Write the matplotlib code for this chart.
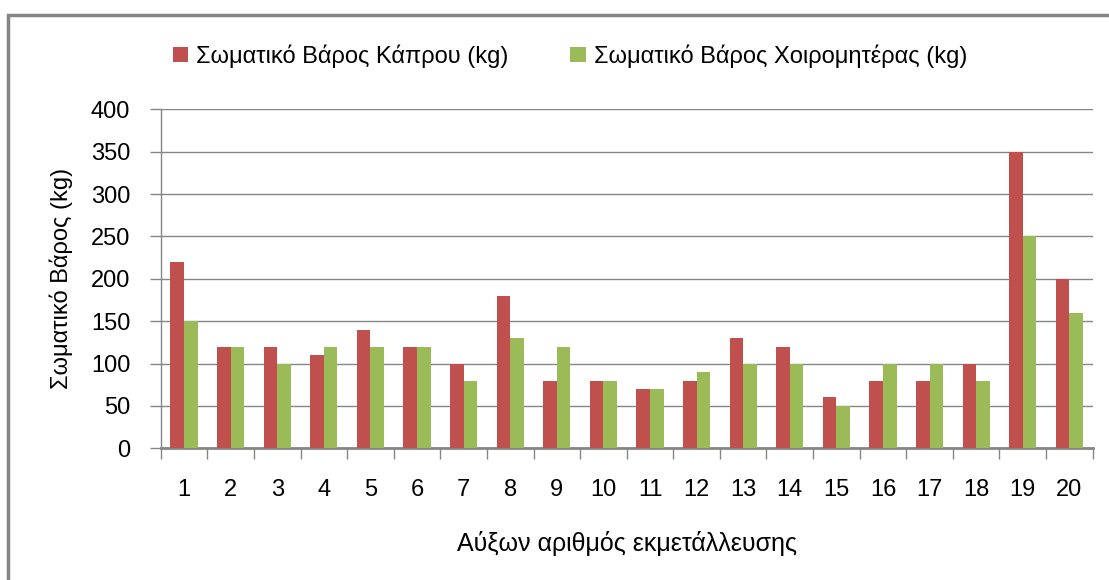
import matplotlib
matplotlib.use("Agg")
import matplotlib.pyplot as plt
from matplotlib.patches import Rectangle
import numpy as np

plt.rcParams['font.family'] = ['Liberation Sans', 'DejaVu Sans']

categories = [str(i) for i in range(1, 21)]
boar = [220, 120, 120, 110, 140, 120, 100, 180, 80, 80, 70, 80, 130, 120, 60, 80, 80, 100, 350, 200]
sow = [150, 120, 100, 120, 120, 120, 80, 130, 120, 80, 70, 90, 100, 100, 50, 100, 100, 80, 250, 160]
series_names = ['Σωματικό Βάρος Κάπρου (kg)', 'Σωματικό Βάρος Χοιρομητέρας (kg)']
yticks = [0, 50, 100, 150, 200, 250, 300, 350, 400]

RED = '#C0504D'
GREEN = '#9BBB59'
GRAY = '#868686'

W, H = 1109, 580
fig = plt.figure(figsize=(W / 100, H / 100), dpi=100)
ax = fig.add_axes([160.7 / W, 1 - 448.3 / H, (1092.7 - 160.7) / W, (448.3 - 109.3) / H])

x = np.arange(len(categories))
bw = 0.29
b1 = ax.bar(x - bw / 2, boar, width=bw, color=RED, label=series_names[0], zorder=3)
b2 = ax.bar(x + bw / 2, sow, width=bw, color=GREEN, label=series_names[1], zorder=3)

ax.set_xlim(-0.5, len(categories) - 0.5)
ax.set_ylim(0, 400)
ax.set_yticks(yticks)
ax.set_xticks(x)
ax.set_xticklabels(categories)
ax.set_xticks(np.arange(-0.5, len(categories), 1.0), minor=True)
ax.tick_params(axis='x', which='major', length=0, pad=22, labelsize=17)
ax.tick_params(axis='x', which='minor', length=8, width=1, color=GRAY, direction='out')
ax.tick_params(axis='y', length=8, width=1, color=GRAY, direction='out', pad=14, labelsize=17)

ax.yaxis.grid(True, color=GRAY, linewidth=1, zorder=0)
ax.set_axisbelow(True)
for s in ['top', 'right']:
    ax.spines[s].set_visible(False)
ax.spines['left'].set_color(GRAY)
ax.spines['left'].set_linewidth(1)
ax.spines['bottom'].set_color(GRAY)
ax.spines['bottom'].set_linewidth(2)

ax.set_ylabel('Σωματικό Βάρος (kg)', fontsize=17, labelpad=13)
ax.set_xlabel('Αύξων αριθμός εκμετάλλευσης', fontsize=18, labelpad=22)

leg = fig.legend(handles=[b1, b2], labels=series_names, ncol=2, loc='center',
                 bbox_to_anchor=(570 / W, 1 - 56 / H), frameon=False, fontsize=17,
                 handlelength=0.65, handleheight=0.65, handletextpad=0.35, columnspacing=2.6)

fig.patches.append(Rectangle((8 / W, -0.1), 1.2, 1 - 15 / H + 0.1, transform=fig.transFigure,
                             fill=False, edgecolor=GRAY, linewidth=2.5))

fig.savefig('out.png', dpi=100)
